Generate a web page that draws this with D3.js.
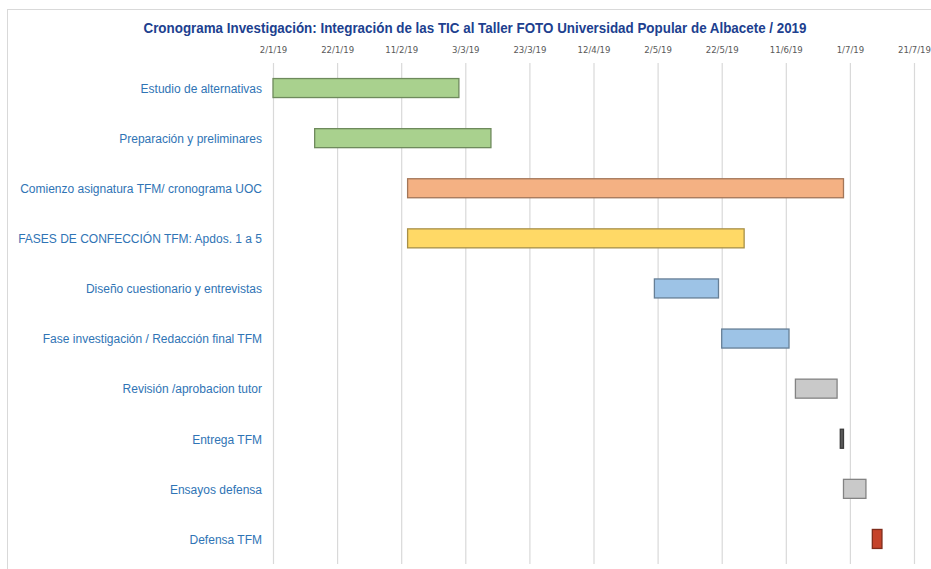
<!DOCTYPE html>
<html>
<head>
<meta charset="utf-8">
<script src="https://cdn.jsdelivr.net/npm/d3@7"></script>
<style>
  body { margin: 0; background: #fff; }
  svg { display: block; font-family: "Liberation Sans", Arial, sans-serif; }
</style>
</head>
<body>
<div class="chart"></div>
<script>
var tasks = [
  "Estudio de alternativas",
  "Preparación y preliminares",
  "Comienzo asignatura TFM/ cronograma UOC",
  "FASES DE CONFECCIÓN TFM: Apdos. 1 a 5",
  "Diseño cuestionario y entrevistas",
  "Fase investigación / Redacción final TFM",
  "Revisión /aprobacion tutor",
  "Entrega TFM",
  "Ensayos defensa",
  "Defensa TFM"
];
var startDates = ["2019-01-02", "2019-01-15", "2019-02-13", "2019-02-13", "2019-05-01",
  "2019-05-22", "2019-06-14", "2019-06-28", "2019-06-29", "2019-07-08"];
var endDates = ["2019-03-01", "2019-03-11", "2019-06-29", "2019-05-29", "2019-05-21",
  "2019-06-12", "2019-06-27", "2019-06-29", "2019-07-06", "2019-07-11"];
var tickLabels = ["2/1/19", "22/1/19", "11/2/19", "3/3/19", "23/3/19", "12/4/19",
  "2/5/19", "22/5/19", "11/6/19", "1/7/19", "21/7/19"];

var fills = ["#a9d18e", "#a9d18e", "#f4b183", "#ffd966", "#9dc3e6", "#9dc3e6",
  "#c9c9c9", "#595959", "#c9c9c9", "#c5432a"];
var strokes = ["#6e8a5c", "#6e8a5c", "#a37658", "#a89048", "#667f96", "#667f96",
  "#838383", "#3a3a3a", "#838383", "#7f2c1b"];

var fullWidth = 931, fullHeight = 569;
var plot = { left: 273, right: 914, top: 63, bottom: 564 };

var parse = d3.timeParse("%Y-%m-%d");
var parseTick = d3.timeParse("%d/%m/%y");
var fmt = d3.timeFormat("%-d/%-m/%y");

var data = tasks.map(function (t, i) {
  return { task: t, start: parse(startDates[i]), end: parse(endDates[i]), i: i };
});
var ticks = tickLabels.map(function (s) { return parseTick(s); });

var svg = d3.select(".chart").append("svg")
  .attr("width", fullWidth)
  .attr("height", fullHeight);

// chart frame
svg.append("rect")
  .attr("x", 7.5).attr("y", 9.5)
  .attr("width", 940).attr("height", 580)
  .attr("fill", "#fff")
  .attr("stroke", "#d9d9d9");

svg.append("text")
  .attr("x", 475).attr("y", 33)
  .attr("text-anchor", "middle")
  .attr("fill", "#203f8f")
  .attr("font-size", 15)
  .attr("font-weight", "bold")
  .attr("textLength", 663)
  .attr("lengthAdjust", "spacingAndGlyphs")
  .text("Cronograma Investigación: Integración de las TIC al Taller FOTO Universidad Popular de Albacete / 2019");

var xScale = d3.scaleTime()
  .domain([ticks[0], ticks[ticks.length - 1]])
  .range([plot.left, plot.right]);

var yScale = d3.scaleBand()
  .domain(tasks)
  .range([plot.top + 1, plot.bottom + 1]);

var xAxis = d3.axisTop(xScale)
  .tickValues(ticks)
  .tickFormat(fmt)
  .tickSize(-(plot.bottom - plot.top))
  .tickPadding(6);

var gx = svg.append("g")
  .attr("transform", `translate(0, ${plot.top})`)
  .call(xAxis);
gx.select(".domain").remove();
gx.selectAll("line").attr("stroke", "#d9d9d9").attr("stroke-width", 1.2);
gx.selectAll("text")
  .attr("fill", "#595959")
  .attr("font-size", 9.5)
  .attr("font-family", "'Liberation Sans Narrow', 'DejaVu Sans Condensed', sans-serif")
  .attr("y", -10);

var yAxis = d3.axisLeft(yScale).tickSize(0).tickPadding(11);
var gy = svg.append("g")
  .attr("transform", `translate(${plot.left}, 0)`)
  .call(yAxis);
gy.select(".domain").remove();
gy.selectAll("text")
  .attr("fill", "#2f74b5")
  .attr("font-size", 12)
  .attr("font-family", "'Liberation Sans', Arial, sans-serif");

var barH = 19;
svg.selectAll("rect.bar")
  .data(data)
  .enter()
  .append("rect")
  .attr("class", "bar")
  .attr("x", d => xScale(d.start))
  .attr("y", d => yScale(d.task) + yScale.bandwidth() / 2 - barH / 2 - 1)
  .attr("width", d => Math.max(2, xScale(d.end) - xScale(d.start)))
  .attr("height", barH)
  .attr("fill", d => fills[d.i])
  .attr("stroke", d => strokes[d.i])
  .attr("stroke-width", 1.3);
</script>
</body>
</html>
